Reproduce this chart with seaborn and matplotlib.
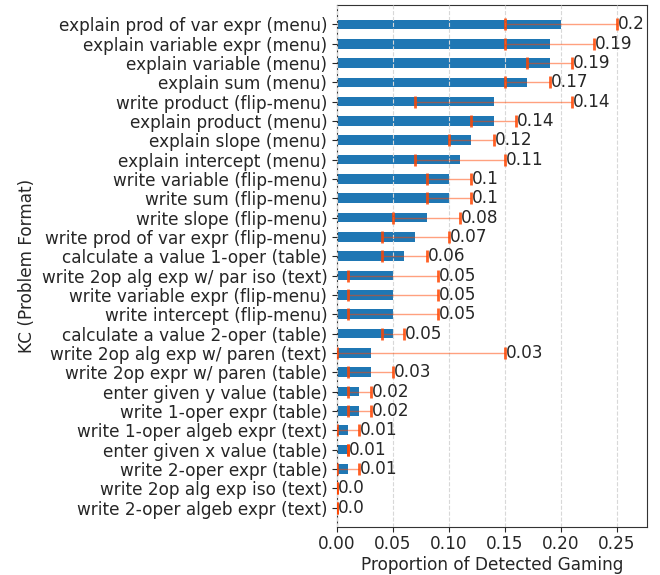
import matplotlib
matplotlib.use("Agg")
import matplotlib.pyplot as plt
import seaborn as sns
import pandas as pd
import numpy as np

kcs = [
    "explain prod of var expr (menu)",
    "explain variable expr (menu)",
    "explain variable (menu)",
    "explain sum (menu)",
    "write product (flip-menu)",
    "explain product (menu)",
    "explain slope (menu)",
    "explain intercept (menu)",
    "write variable (flip-menu)",
    "write sum (flip-menu)",
    "write slope (flip-menu)",
    "write prod of var expr (flip-menu)",
    "calculate a value 1-oper (table)",
    "write 2op alg exp w/ par iso (text)",
    "write variable expr (flip-menu)",
    "write intercept (flip-menu)",
    "calculate a value 2-oper (table)",
    "write 2op alg exp w/ paren (text)",
    "write 2op expr w/ paren (table)",
    "enter given y value (table)",
    "write 1-oper expr (table)",
    "write 1-oper algeb expr (text)",
    "enter given x value (table)",
    "write 2-oper expr (table)",
    "write 2op alg exp iso (text)",
    "write 2-oper algeb expr (text)",
]
proportion = [0.20, 0.19, 0.19, 0.17, 0.14, 0.14, 0.12, 0.11, 0.10, 0.10,
              0.08, 0.07, 0.06, 0.05, 0.05, 0.05, 0.05, 0.03, 0.03, 0.02,
              0.02, 0.01, 0.01, 0.01, 0.00, 0.00]
lower = [0.15, 0.15, 0.17, 0.15, 0.07, 0.12, 0.10, 0.07, 0.08, 0.08,
         0.05, 0.04, 0.04, 0.01, 0.01, 0.01, 0.04, 0.00, 0.01, 0.01,
         0.01, 0.00, 0.01, 0.00, 0.00, 0.00]
upper = [0.25, 0.23, 0.21, 0.19, 0.21, 0.16, 0.14, 0.15, 0.12, 0.12,
         0.11, 0.10, 0.08, 0.09, 0.09, 0.09, 0.06, 0.15, 0.05, 0.03,
         0.03, 0.02, 0.01, 0.02, 0.00, 0.00]

df = pd.DataFrame({"KC": kcs, "prop": proportion, "lo": lower, "hi": upper})

plt.rcParams["font.family"] = ["DejaVu Sans"]
plt.rcParams["text.color"] = "#262626"
plt.rcParams["axes.labelcolor"] = "#262626"
plt.rcParams["xtick.color"] = "#262626"
plt.rcParams["ytick.color"] = "#262626"

FS = 12.2

fig = plt.figure(figsize=(6.6, 5.75), dpi=100)
ax = fig.add_axes([0.5106, 0.0835, 0.4697, 0.9078])

sns.barplot(data=df, x="prop", y="KC", orient="h", color="#1f77b4",
            saturation=1, width=0.5, ax=ax, errorbar=None)

ypos = np.arange(len(kcs))
prop = np.array(proportion)
xerr = np.vstack([prop - np.array(lower), np.array(upper) - prop])
_, caps, bars = ax.errorbar(prop, ypos, xerr=xerr, fmt="none",
                            ecolor="orangered", elinewidth=1.0,
                            capsize=4, capthick=2, zorder=3)
for b in bars:
    b.set_alpha(0.5)
for c in caps:
    c.set_alpha(0.85)

for y, v, h in zip(ypos, proportion, upper):
    ax.text(h + 0.0008, y, f"{round(v, 2)}", va="center", ha="left",
            fontsize=FS, color="#262626")

ax.set_xlim(0, 0.277)
ax.set_ylim(len(kcs), -1)
ax.set_xticks([0, 0.05, 0.10, 0.15, 0.20, 0.25])
ax.set_xticklabels(["0.00", "0.05", "0.10", "0.15", "0.20", "0.25"])
ax.grid(axis="x", linestyle="--", color="#d8d8d8", linewidth=0.8)
ax.grid(axis="y", visible=False)
ax.set_axisbelow(False)
ax.tick_params(axis="both", labelsize=FS)
ax.tick_params(axis="x", pad=2.5)
ax.set_xlabel("Proportion of Detected Gaming", fontsize=FS, labelpad=2)
ax.set_ylabel("KC (Problem Format)", fontsize=FS)
for s in ax.spines.values():
    s.set_color("#333333")

fig.savefig("out.png", dpi=100)
